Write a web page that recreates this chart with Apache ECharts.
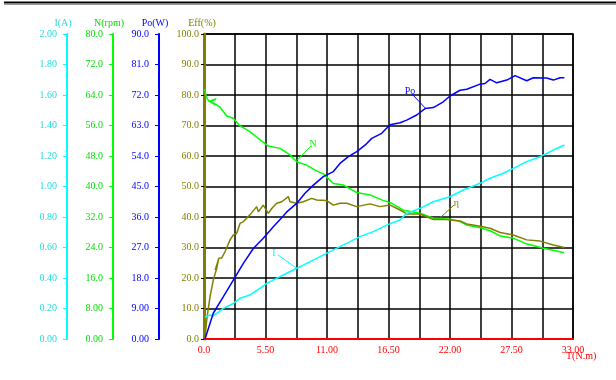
<!DOCTYPE html>
<html>
<head>
<meta charset="utf-8">
<script src="https://cdn.jsdelivr.net/npm/echarts@6/dist/echarts.min.js"></script>
<style>
html,body{margin:0;padding:0;background:#fff;}
#chart{width:616px;height:380px;}
</style>
</head>
<body>
<div id="chart"></div>
<script>
// ---- tick labels ----
var xTickLabels = ['0.0','5.50','11.00','16.50','22.00','27.50','33.00'];
var iTickLabels = ['0.00','0.20','0.40','0.60','0.80','1.00','1.20','1.40','1.60','1.80','2.00'];
var nTickLabels = ['0.00','8.00','16.0','24.0','32.0','40.0','48.0','56.0','64.0','72.0','80.0'];
var poTickLabels = ['0.00','9.00','18.0','27.0','36.0','45.0','54.0','63.0','72.0','81.0','90.0'];
var effTickLabels = ['0.0','10.0','20.0','30.0','40.0','50.0','60.0','70.0','80.0','90.0','100.0'];

// ---- series data: [T (N.m), value] ----
var nCurve = [[0.05,65.6],[0.2,63.5],[0.45,62.3],[1.1,63.0],[0.55,62.2],[1.0,61.4],[0.8,62.0],[1.43,60.8],
  [2.03,58.5],[2.62,57.9],[3.22,55.9],[4.11,54.4],[4.86,52.6],[5.75,50.6],[6.80,50.0],[7.69,48.3],
  [8.29,46.5],[9.19,45.6],[9.93,44.3],[10.67,43.3],[11.57,40.8],[12.46,40.4],[13.66,38.4],[14.85,37.8],
  [15.89,36.5],[16.79,35.6],[17.83,33.8],[19.32,33.0],[20.51,31.7],[22.0,31.4],[22.9,30.8],[23.5,29.9],
  [24.7,29.2],[25.6,28.4],[26.5,27.0],[27.7,26.4],[28.9,24.9],[30.35,23.8],[31.55,23.1],[32.2,22.6]];

var effCurve = [[0.09,0.2],[0.24,6.2],[0.54,13.9],[0.83,19.3],[1.14,23.2],[1.28,25.9],[1.0,22.6],[1.35,26.6],
  [1.58,26.5],[1.88,28.6],[2.33,32.5],[2.62,34.1],[2.92,34.6],[3.22,37.9],[3.52,38.5],[4.11,40.7],
  [4.71,43.4],[4.86,41.7],[5.30,43.9],[5.75,41.2],[6.06,42.8],[6.50,44.5],[6.95,45.0],[7.54,46.7],
  [7.69,45.0],[8.29,44.5],[8.88,45.0],[9.63,46.1],[10.08,45.6],[10.97,45.4],[11.57,43.9],[12.16,44.5],
  [12.76,44.5],[13.66,43.4],[14.85,44.3],[15.74,43.4],[16.64,43.9],[17.53,42.3],[18.13,41.0],[19.32,41.0],
  [20.51,39.2],[21.71,39.2],[22.90,38.7],[23.50,37.7],[24.69,37.0],[25.58,36.3],[26.48,34.9],[27.67,34.1],
  [28.86,32.5],[30.05,32.1],[31.24,30.8],[32.23,30.0]];

var poCurve = [[0.09,0],[0.83,7.6],[1.73,12.5],[2.62,17.4],[3.52,22.3],[4.41,26.7],[5.30,29.7],[6.20,33.1],
  [6.95,35.8],[7.40,37.5],[8.29,40.0],[9.03,43.0],[9.78,45.4],[10.67,47.9],[11.57,49.4],[12.16,51.8],
  [12.91,53.8],[13.66,55.3],[14.40,57.2],[15.0,59.2],[15.89,60.7],[16.64,63.2],[17.53,63.8],[18.13,64.6],
  [19.02,66.1],[19.77,68.0],[20.51,68.3],[21.40,70.0],[22.0,71.7],[22.9,73.4],[23.5,73.7],[24.69,75.2],
  [25.13,75.4],[25.58,76.6],[26.18,75.6],[27.08,76.4],[27.82,77.7],[28.86,76.2],[29.45,77.1],[30.65,77.0],
  [31.24,76.4],[31.84,77.1],[32.23,77.1]];

var iCurve = [[0.09,0.144],[0.54,0.157],[0.8,0.151],[1.14,0.168],[1.73,0.201],[2.62,0.233],[3.22,0.267],
  [4.11,0.289],[5.0,0.332],[5.61,0.365],[6.50,0.398],[7.40,0.431],[8.29,0.464],[9.19,0.496],[10.38,0.540],
  [11.57,0.584],[12.76,0.627],[13.95,0.671],[15.14,0.704],[16.34,0.747],[17.53,0.780],[18.13,0.824],
  [19.32,0.857],[20.51,0.900],[22.0,0.933],[23.19,0.977],[24.69,1.021],[25.58,1.054],[26.77,1.087],
  [27.67,1.119],[28.86,1.163],[30.05,1.195],[31.24,1.239],[32.23,1.272]];

// ---- curve tags (leader line from curve point to tag point) ----
var nTag = {name:'N', from:[8.32,46.9], to:[9.57,50.6]};
var poTag = {name:'Po', from:[19.77,68.2], to:[18.6,72.3]};
var iTag = {name:'I', from:[8.23,0.466], to:[6.62,0.551]};
var effTag = {name:'η', from:[21.1,39.7], to:[22.36,43.9]};

var FONT = 'Liberation Serif';
var C_I = '#00FFFF', C_N = '#00FF00', C_PO = '#0000FF', C_EFF = '#808000';

function yAx(name, max, offset, color, labelColor, labels, extra) {
  var ax = {
    type:'value', position:'left', offset:offset, min:0, max:max, interval:max/10,
    name:name, nameLocation:'end', nameGap:6,
    nameTextStyle:{color:labelColor, fontFamily:FONT, fontSize:10, padding:[0,8,0,0]},
    axisLine:{show:true, onZero:false, lineStyle:{color:color, width:2}},
    axisTick:{show:true, inside:false, length:4, lineStyle:{color:color, width:1}},
    axisLabel:{color:labelColor, fontFamily:FONT, fontSize:10, margin:10,
      formatter:function(v,i){ return labels[Math.round(v/(max/10))]; }},
    splitLine:{show:false}
  };
  if (extra) Object.keys(extra).forEach(function(k){ ax[k] = Object.assign({}, ax[k], extra[k]); });
  return ax;
}

function tagLine(tag, color) {
  return {
    silent:true, symbol:'none', animation:false,
    lineStyle:{color:color, width:1, type:'solid'},
    label:{show:true, position:'end', formatter:tag.name, color:color, fontFamily:FONT, fontSize:10, distance:3},
    data:[[{coord:tag.from},{coord:tag.to}]]
  };
}

var chart = echarts.init(document.getElementById('chart'), null, {renderer:'canvas'});
chart.setOption({
  animation:false,
  backgroundColor:'#fff',
  grid:{left:204, right:43, top:34, bottom:41, containLabel:false, outerBoundsMode:'none',
        show:true, borderColor:'#000', borderWidth:1.5, backgroundColor:'transparent'},
  xAxis:{
    type:'value', min:0, max:33, interval:2.75,
    axisLine:{show:true, onZero:false, lineStyle:{color:'#FF0000', width:2}},
    axisTick:{show:false},
    axisLabel:{color:'#FF0000', fontFamily:FONT, fontSize:10, margin:6,
      formatter:function(v){ var k = Math.round(v/2.75); return k%2===0 ? xTickLabels[k/2] : ''; }},
    splitLine:{show:true, lineStyle:{color:'#000', width:1.5}}
  },
  yAxis:[
    yAx('Eff(%)', 100, 0, C_EFF, C_EFF, effTickLabels, {
      axisTick:{lineStyle:{color:'#000'}, length:3},
      axisLabel:{margin:5},
      axisLine:{lineStyle:{color:C_EFF, width:3}},
      splitLine:{show:true, lineStyle:{color:'#000', width:1.5}},
      nameTextStyle:{padding:[0,4,0,0]}
    }),
    yAx('Po(W)', 90, 45, C_PO, C_PO, poTickLabels),
    yAx('N(rpm)', 80, 91, C_N, '#00DD00', nTickLabels),
    yAx('I(A)', 2, 137, C_I, '#22DDDD', iTickLabels)
  ],
  series:[
    {type:'line', name:'N', yAxisIndex:2, data:nCurve, showSymbol:false, symbol:'none',
      lineStyle:{color:C_N, width:1.5}, markLine:tagLine(nTag, C_N)},
    {type:'line', name:'Eff', yAxisIndex:0, data:effCurve, showSymbol:false, symbol:'none',
      lineStyle:{color:C_EFF, width:1.5}, markLine:tagLine(effTag, C_EFF)},
    {type:'line', name:'I', yAxisIndex:3, data:iCurve, showSymbol:false, symbol:'none',
      lineStyle:{color:C_I, width:1.5}, markLine:tagLine(iTag, C_I)},
    {type:'line', name:'Po', yAxisIndex:1, data:poCurve, showSymbol:false, symbol:'none',
      lineStyle:{color:C_PO, width:1.5}, markLine:tagLine(poTag, C_PO)}
  ],
  graphic:[
    {type:'line', shape:{x1:4, y1:2.5, x2:616, y2:2.5}, style:{stroke:'#000', lineWidth:2}},
    {type:'line', shape:{x1:4, y1:4.5, x2:616, y2:4.5}, style:{stroke:'#999', lineWidth:1}},
    {type:'text', left:566, top:351, style:{text:'T(N.m)', fill:'#FF0000', font:'10px "Liberation Serif"'}}
  ]
});
</script>
</body>
</html>
